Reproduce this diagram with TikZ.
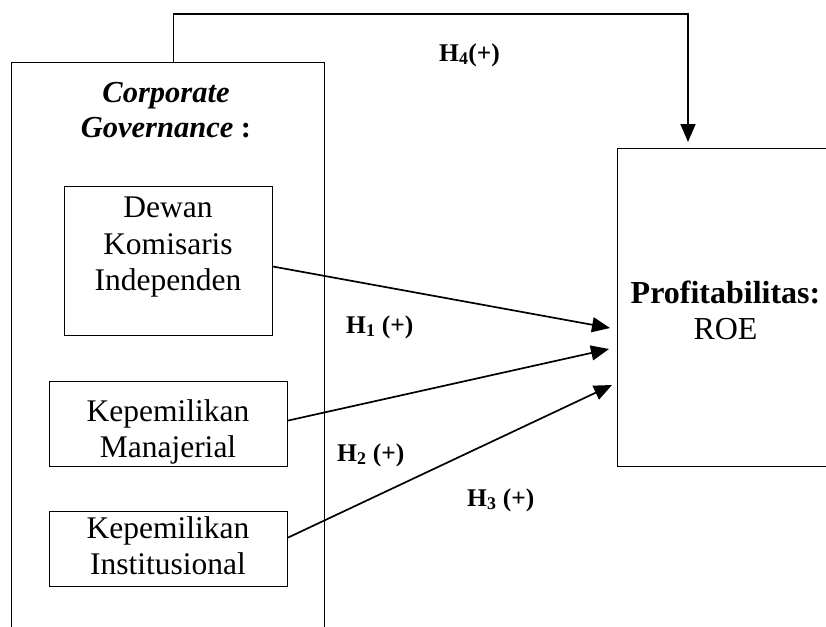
\documentclass[tikz,border=0pt]{standalone}
\usepackage{fontspec}
\setmainfont{Liberation Serif}
\usetikzlibrary{arrows.meta,calc}
\begin{document}
\begin{tikzpicture}[x=1pt,y=-1pt,
  frame/.style={draw, line width=1.1pt, inner sep=0pt, anchor=north west},
  lbl/.style={font=\fontsize{31.5}{36.5}\selectfont, align=center, inner sep=0pt, anchor=north},
  hyp/.style={font=\fontsize{25.5}{28}\selectfont\bfseries, inner sep=0pt, anchor=base west},
  arr/.style={line width=1.7pt, -{Triangle[length=18pt,width=15pt]}}]
\useasboundingbox (0,0) rectangle (826,626);
\clip (0,0) rectangle (826,626);
% outer boxes
\node[frame, minimum width=313pt, minimum height=600pt] (gov) at (11,62) {};
\node[frame, minimum width=230pt, minimum height=318pt] (roe) at (617,148) {};
% inner boxes
\node[frame, minimum width=208pt, minimum height=149pt] (dewan) at (64,186) {};
\node[frame, minimum width=238pt, minimum height=85pt] (manaj) at (49,381) {};
\node[frame, minimum width=238pt, minimum height=75pt] (inst) at (49,511) {};
% texts
\node[lbl, font=\fontsize{30.5}{35}\selectfont\bfseries\itshape] (govt) at (166,82) {Corporate\\Governance\textup{ :}};
\node[lbl] (dewant) at (168,197) {Dewan\\Komisaris\\Independen};
\node[lbl] (manajt) at (168,399) {Kepemilikan\\Manajerial};
\node[lbl] (instt) at (168,516) {Kepemilikan\\Institusional};
\node[lbl, font=\fontsize{32}{36}\selectfont] (profit) at (725.5,281) {\textbf{Profitabilitas:}\\ROE};
% hypothesis labels
\node[hyp] (h4) at (439,61) {H\textsubscript{4}(+)};
\node[hyp] (h1) at (346,333) {H\textsubscript{1} (+)};
\node[hyp] (h2) at (337,461) {H\textsubscript{2} (+)};
\node[hyp] (h3) at (467,506) {H\textsubscript{3} (+)};
% arrow targets
\coordinate (t1) at (610,328);
\coordinate (t2) at (609,349);
\coordinate (t3) at (612,385);
\coordinate (t4) at (688,142);
% connectors
\draw[arr] ([yshift=-5.5pt]dewan.east) -- (t1);
\draw[arr] ([yshift=3.5pt]manaj.east) -- (t2);
\draw[arr] ([yshift=11.5pt]inst.east) -- (t3);
\draw[arr] ([xshift=5.5pt]gov.north) -- ++(0,-48) -| (t4);
\end{tikzpicture}
\end{document}
